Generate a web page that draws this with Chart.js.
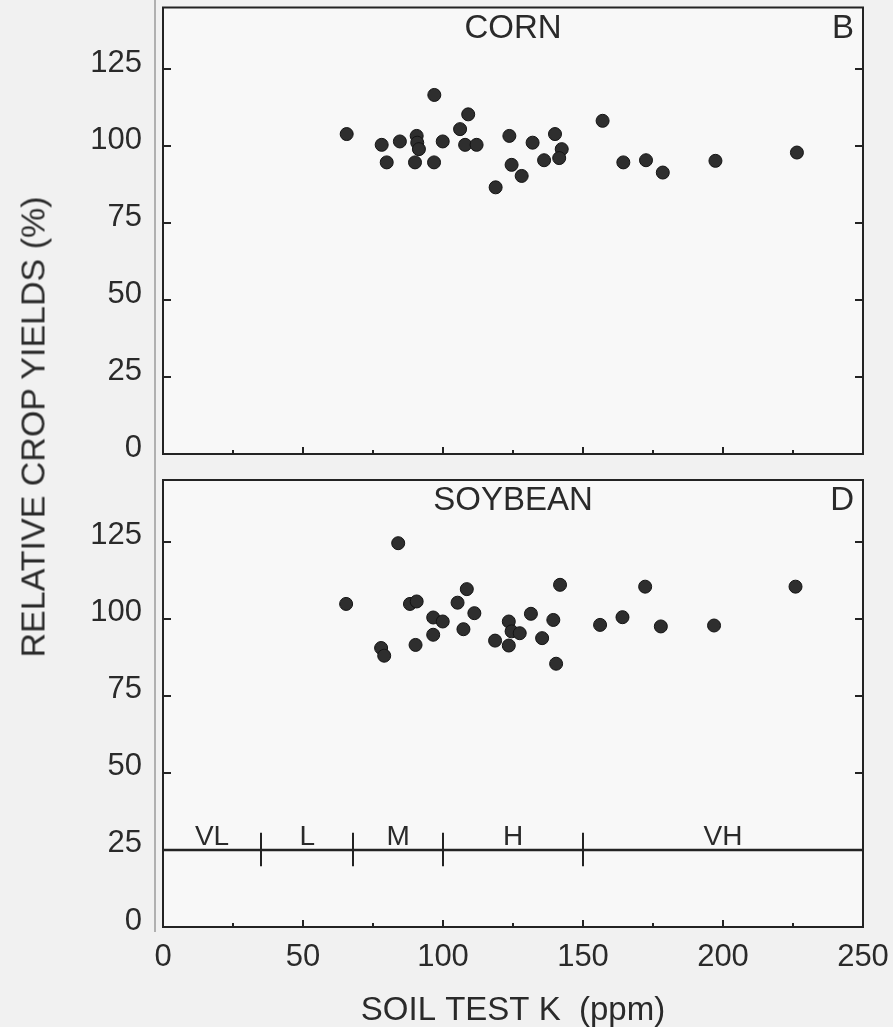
<!DOCTYPE html>
<html><head><meta charset="utf-8">
<script src="https://cdn.jsdelivr.net/npm/chart.js@4.4.1/dist/chart.umd.min.js"></script>
<style>
html,body{margin:0;padding:0;background:#f1f1f1;}
#wrap{position:relative;width:893px;height:1027px;overflow:hidden;background:#f1f1f1;}
#c1{position:absolute;left:0;top:0;}
#c2{position:absolute;left:0;top:470px;}
#ytitle{position:absolute;left:33px;top:427px;transform:translate(-50%,-50%) rotate(-90deg);font-family:'Liberation Sans',Arial,sans-serif;font-size:34px;color:#2a2a2a;white-space:nowrap;}
#edge{position:absolute;left:154px;top:0;width:2px;height:932px;background:#b0b0b0;}
</style></head><body>
<div id="wrap">
<div id="edge"></div>
<canvas id="c1" width="893" height="470"></canvas>
<canvas id="c2" width="893" height="557"></canvas>
<div id="ytitle">RELATIVE CROP YIELDS (%)</div>
</div>
<script>
// ---- data ----
const cornK     = [65.6, 78.1, 79.9, 84.6, 90.6, 90.8, 91.4, 90.0, 96.8, 96.9, 99.9, 106.1, 109.0, 107.9, 112.0, 118.8, 123.7, 124.5, 128.1, 132.0, 136.1, 140.0, 142.4, 141.5, 157.0, 164.4, 172.5, 178.5, 197.3, 226.4];
const cornYield = [103.9, 100.4, 94.7, 101.5, 103.3, 101.1, 99.0, 94.7, 94.7, 116.6, 101.5, 105.5, 110.3, 100.4, 100.4, 86.6, 103.3, 93.9, 90.3, 101.1, 95.4, 103.9, 99.0, 96.1, 108.2, 94.7, 95.4, 91.4, 95.2, 97.9];
const soyK      = [65.4, 77.9, 79.0, 84.0, 88.2, 90.6, 90.2, 96.5, 99.9, 96.5, 105.2, 108.5, 111.2, 107.3, 118.6, 123.5, 124.5, 127.4, 123.5, 131.4, 135.4, 139.4, 140.4, 141.8, 156.1, 164.1, 172.2, 177.8, 196.8, 225.9];
const soyYield  = [104.8, 90.5, 88.0, 124.5, 104.8, 105.6, 91.5, 100.4, 99.1, 94.8, 105.2, 109.6, 101.8, 96.6, 92.9, 99.1, 95.9, 95.3, 91.3, 101.6, 93.7, 99.6, 85.4, 111.0, 98.0, 100.5, 110.4, 97.5, 97.8, 110.4];
const xTicks      = [0, 50, 100, 150, 200, 250];
const xMinorTicks = [25, 75, 125, 175, 225];
const yTicks      = [0, 25, 50, 75, 100, 125];
const zoneBounds  = [0, 35, 68, 100, 150, 250];
const zoneLabels  = ['VL', 'L', 'M', 'H', 'VH'];
const zoneLevel   = 25;
const zoneMarkSpan = [19.7, 30.6];

const INK = '#232323';
const TXT = '#2a2a2a';
const FONT = "'Liberation Sans', Arial, sans-serif";

const panelPlugin = {
  id: 'panel',
  beforeDraw(chart) {
    const {ctx, chartArea: a} = chart;
    ctx.save();
    ctx.fillStyle = '#f8f8f8';
    ctx.fillRect(a.left, a.top, a.right - a.left, a.bottom - a.top);
    ctx.restore();
  },
  afterDraw(chart, args, o) {
    const {ctx, chartArea: a, scales: {x, y}} = chart;
    ctx.save();
    ctx.strokeStyle = INK;
    ctx.lineWidth = 2;
    ctx.strokeRect(a.left, a.top, a.right - a.left, a.bottom - a.top);
    ctx.beginPath();
    yTicks.forEach(v => {
      if (v <= 0) return;
      const py = Math.round(y.getPixelForValue(v));
      ctx.moveTo(a.left, py); ctx.lineTo(a.left + 8, py);
      ctx.moveTo(a.right, py); ctx.lineTo(a.right - 8, py);
    });
    xTicks.forEach(v => {
      if (v <= x.min || v >= x.max) return;
      const px = Math.round(x.getPixelForValue(v));
      ctx.moveTo(px, a.bottom); ctx.lineTo(px, a.bottom - 7);
    });
    xMinorTicks.forEach(v => {
      const px = Math.round(x.getPixelForValue(v));
      ctx.moveTo(px, a.bottom); ctx.lineTo(px, a.bottom - 4);
    });
    ctx.stroke();
    // panel title and letter
    ctx.fillStyle = TXT;
    ctx.font = '33px ' + FONT;
    ctx.textBaseline = 'middle';
    ctx.textAlign = 'center';
    ctx.fillText(o.title, (a.left + a.right) / 2, a.top + 21);
    ctx.textAlign = 'right';
    ctx.fillText(o.letter, a.right - 9, a.top + 21);
    if (o.zones) {
      const ly = y.getPixelForValue(zoneLevel);
      ctx.lineWidth = 2.5;
      ctx.beginPath();
      ctx.moveTo(a.left, ly); ctx.lineTo(a.right, ly);
      ctx.stroke();
      ctx.lineWidth = 2;
      ctx.beginPath();
      const y0 = y.getPixelForValue(zoneMarkSpan[0]), y1 = y.getPixelForValue(zoneMarkSpan[1]);
      zoneBounds.slice(1, -1).forEach(b => {
        const px = Math.round(x.getPixelForValue(b));
        ctx.moveTo(px, y0); ctx.lineTo(px, y1);
      });
      ctx.stroke();
      ctx.font = '28px ' + FONT;
      ctx.textAlign = 'center';
      ctx.textBaseline = 'alphabetic';
      zoneLabels.forEach((t, i) => {
        const mid = (zoneBounds[i] + zoneBounds[i + 1]) / 2;
        ctx.fillText(t, x.getPixelForValue(mid), ly - 5);
      });
    }
    ctx.restore();
  }
};

function noPad(s) {
  s.paddingTop = 0; s.paddingBottom = 0; s.paddingLeft = 0; s.paddingRight = 0;
}

function makeChart(id, kArr, yArr, opts) {
  return new Chart(document.getElementById(id), {
    type: 'scatter',
    data: {
      datasets: [{
        data: kArr.map((k, i) => ({x: k, y: yArr[i]})),
        pointRadius: 6.5,
        pointBackgroundColor: '#2e2e2e',
        pointBorderColor: '#141414',
        pointBorderWidth: 1,
        pointHoverRadius: 6.5
      }]
    },
    options: {
      responsive: false,
      maintainAspectRatio: false,
      animation: false,
      devicePixelRatio: 1,
      events: [],
      layout: {padding: opts.padding},
      plugins: {
        legend: {display: false},
        tooltip: {enabled: false},
        panel: {title: opts.title, letter: opts.letter, zones: opts.zones}
      },
      scales: {
        x: {
          type: 'linear', min: 0, max: 250,
          display: opts.showX,
          afterBuildTicks: s => { s.ticks = xTicks.map(v => ({value: v})); },
          afterFit: s => { s.height = opts.showX ? 100 : 0; noPad(s); },
          grid: {display: false, drawTicks: false},
          border: {display: false},
          ticks: {font: {family: FONT, size: 31}, color: TXT, padding: 12, maxRotation: 0, autoSkip: false},
          title: {display: true, text: 'SOIL TEST K  (ppm)', font: {family: FONT, size: 33, lineHeight: 1.0}, color: TXT, padding: {top: 0, bottom: 0}}
        },
        y: {
          type: 'linear', min: 0, max: 145,
          afterBuildTicks: s => { s.ticks = yTicks.map(v => ({value: v})); },
          afterFit: s => { s.width = 163; noPad(s); },
          grid: {display: false, drawTicks: false},
          border: {display: false},
          ticks: {font: {family: FONT, size: 31}, color: TXT, padding: 21, labelOffset: -6}
        }
      }
    },
    plugins: [panelPlugin]
  });
}

makeChart('c1', cornK, cornYield, {title: 'CORN', letter: 'B', zones: false, showX: false,
  padding: {left: 0, top: 6, right: 30, bottom: 16}});
makeChart('c2', soyK, soyYield, {title: 'SOYBEAN', letter: 'D', zones: true, showX: true,
  padding: {left: 0, top: 10, right: 30, bottom: 0}});
</script>
</body></html>
